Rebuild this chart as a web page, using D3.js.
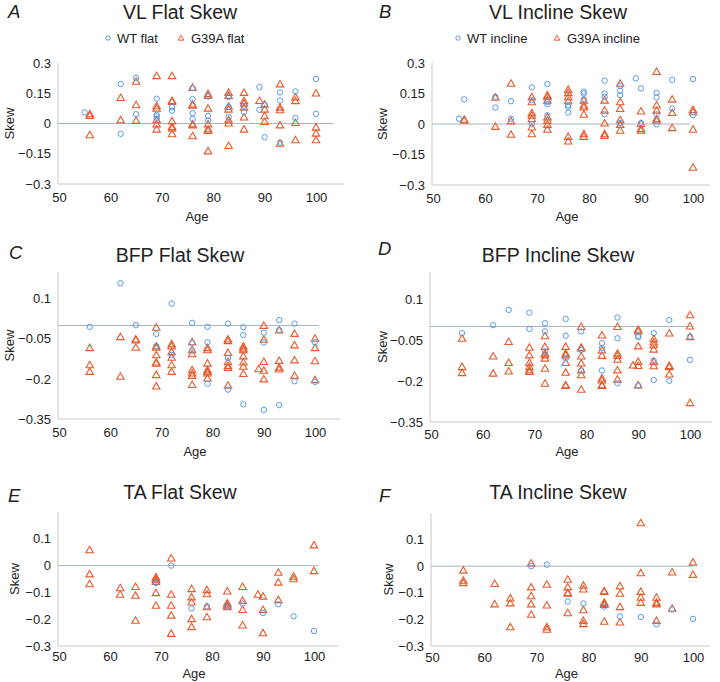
<!DOCTYPE html>
<html><head><meta charset="utf-8">
<script src="https://cdn.jsdelivr.net/npm/d3@7"></script>
<style>body{margin:0;background:#fff}svg{display:block;font-family:"Liberation Sans",Arial,sans-serif}</style>
</head><body><svg id="c" width="720" height="682"></svg>
<script>
// ---------- data ----------
const vlFlatWT = [[55,0.055],[62,0.196],[62,-0.051],[65,0.226],[65,0.046],[69,0.123],[69,0.043],[69,0.035],[69,0.023],[72,0.081],[72,0.063],[76,0.176],[76,0.121],[76,0.051],[76,0.022],[79,0.134],[79,0.038],[79,0.015],[83,0.131],[83,0.081],[83,0.032],[86,0.088],[86,0.056],[89,0.181],[89,0.068],[90,-0.068],[90,0.093],[93,0.154],[93,0.114],[93,-0.095],[96,0.159],[96,0.027],[100,0.221],[100,0.048]];
const vlFlatG39A = [[56,0.048],[56,0.040],[56,-0.056],[62,0.129],[62,0.018],[65,0.209],[65,0.093],[65,0.015],[69,0.237],[69,0.088],[69,0.076],[69,0.018],[69,-0.002],[69,-0.028],[72,0.237],[72,0.114],[72,0.109],[72,0.013],[72,-0.015],[72,-0.023],[72,-0.051],[76,0.179],[76,0.096],[76,0.091],[76,-0.002],[76,-0.007],[76,-0.061],[79,0.148],[79,0.139],[79,0.076],[79,-0.002],[79,-0.027],[79,-0.035],[79,-0.136],[83,0.154],[83,0.139],[83,0.085],[83,0.071],[83,0.018],[83,0.002],[83,-0.109],[86,0.154],[86,0.113],[86,0.101],[86,0.081],[86,0.032],[86,-0.028],[89,0.114],[90,0.096],[90,0.071],[90,0.038],[90,0.010],[93,0.196],[93,0.081],[93,0.068],[93,-0.007],[93,-0.098],[96,0.131],[96,0.113],[96,0.005],[96,-0.081],[100,0.151],[100,-0.018],[100,-0.048],[100,-0.081]];
const vlInclineWT = [[55,0.026],[56,0.121],[62,0.134],[62,0.081],[65,0.112],[65,0.026],[69,0.180],[69,0.117],[69,0.0],[72,0.197],[72,0.109],[72,0.098],[72,0.043],[76,0.093],[76,0.084],[76,0.056],[79,0.159],[79,0.150],[79,0.121],[83,0.213],[83,0.150],[83,0.134],[83,0.048],[86,0.187],[86,0.164],[86,0.142],[86,0.005],[89,0.225],[90,0.175],[90,0.005],[93,0.154],[93,0.131],[93,0.048],[93,-0.002],[96,0.217],[96,0.076],[100,0.221],[100,0.043]];
const vlInclineG39A = [[56,0.023],[56,0.018],[62,0.131],[62,-0.012],[65,0.200],[65,0.015],[65,-0.051],[69,0.134],[69,0.109],[69,0.055],[69,0.043],[69,0.026],[69,-0.015],[69,-0.048],[72,0.142],[72,0.134],[72,0.117],[72,0.035],[72,0.018],[72,-0.002],[72,-0.026],[76,0.170],[76,0.154],[76,0.134],[76,0.114],[76,-0.061],[76,-0.084],[79,0.117],[79,0.093],[79,0.084],[79,0.048],[79,-0.048],[79,-0.061],[83,0.117],[83,0.068],[83,0.005],[83,-0.048],[83,-0.056],[86,0.200],[86,0.109],[86,0.076],[86,0.021],[86,-0.002],[86,-0.031],[90,0.064],[90,0.002],[90,-0.023],[90,-0.031],[93,0.258],[93,0.093],[93,0.068],[93,0.026],[93,0.018],[96,0.122],[96,0.056],[96,-0.018],[100,0.071],[100,0.060],[100,-0.026],[100,-0.213]];
const bfpFlatWT = [[56,-0.005],[62,0.158],[65,0.001],[69,-0.032],[69,-0.077],[72,0.082],[72,-0.110],[76,0.010],[76,-0.067],[76,-0.094],[79,-0.005],[79,-0.063],[79,-0.218],[83,0.007],[83,-0.122],[83,-0.240],[86,-0.007],[86,-0.036],[86,-0.295],[90,-0.027],[90,-0.064],[90,-0.316],[93,0.020],[93,-0.017],[93,-0.298],[96,0.007],[96,-0.209],[100,-0.063],[100,-0.211]];
const bfpFlatG39A = [[56,-0.083],[56,-0.147],[56,-0.172],[62,-0.042],[62,-0.190],[65,-0.051],[65,-0.054],[65,-0.082],[69,-0.007],[69,-0.077],[69,-0.082],[69,-0.110],[69,-0.137],[69,-0.141],[69,-0.184],[69,-0.227],[72,-0.069],[72,-0.077],[72,-0.098],[72,-0.119],[72,-0.147],[72,-0.172],[76,-0.061],[76,-0.091],[76,-0.106],[76,-0.166],[76,-0.178],[76,-0.187],[76,-0.221],[79,-0.083],[79,-0.091],[79,-0.141],[79,-0.166],[79,-0.172],[79,-0.178],[79,-0.197],[83,-0.051],[83,-0.057],[83,-0.101],[83,-0.135],[83,-0.150],[83,-0.157],[83,-0.224],[86,-0.077],[86,-0.085],[86,-0.091],[86,-0.114],[86,-0.137],[86,-0.153],[86,-0.180],[89,-0.162],[90,0.0],[90,-0.052],[90,-0.135],[90,-0.168],[90,-0.200],[93,-0.017],[93,-0.131],[93,-0.156],[93,-0.163],[96,-0.030],[96,-0.073],[96,-0.129],[96,-0.187],[100,-0.048],[100,-0.083],[100,-0.132],[100,-0.203]];
const bfpInclineWT = [[56,-0.024],[62,0.005],[65,0.061],[69,0.051],[69,-0.009],[72,0.012],[72,-0.018],[72,-0.092],[76,0.028],[76,-0.034],[76,-0.116],[79,-0.018],[79,-0.086],[79,-0.161],[83,-0.061],[83,-0.079],[83,-0.161],[86,0.033],[86,-0.043],[86,-0.208],[90,-0.034],[90,-0.039],[90,-0.216],[93,-0.024],[93,-0.125],[93,-0.196],[96,0.024],[96,-0.199],[100,-0.037],[100,-0.122]];
const bfpInclineG39A = [[56,-0.043],[56,-0.147],[56,-0.169],[62,-0.108],[62,-0.171],[65,-0.055],[65,-0.132],[65,-0.163],[69,-0.076],[69,-0.104],[69,-0.132],[69,-0.147],[69,-0.159],[69,-0.165],[72,-0.034],[72,-0.073],[72,-0.098],[72,-0.104],[72,-0.116],[72,-0.153],[72,-0.208],[76,-0.073],[76,-0.098],[76,-0.104],[76,-0.132],[76,-0.168],[76,-0.214],[76,-0.216],[79,0.0],[79,-0.076],[79,-0.079],[79,-0.108],[79,-0.134],[79,-0.159],[79,-0.177],[79,-0.230],[83,-0.031],[83,-0.086],[83,-0.106],[83,-0.189],[83,-0.196],[83,-0.214],[83,-0.216],[86,0.0],[86,-0.098],[86,-0.106],[86,-0.120],[86,-0.159],[86,-0.193],[89,-0.141],[90,-0.010],[90,-0.016],[90,-0.071],[90,-0.128],[90,-0.143],[90,-0.214],[93,-0.045],[93,-0.057],[93,-0.067],[93,-0.083],[93,-0.128],[93,-0.144],[96,-0.024],[96,-0.143],[96,-0.147],[96,-0.174],[100,0.043],[100,0.002],[100,-0.037],[100,-0.279]];
const taFlatWT = [[69,-0.065],[72,0.0],[76,-0.160],[79,-0.152],[83,-0.152],[86,-0.142],[90,-0.177],[93,-0.144],[96,-0.189],[100,-0.244]];
const taFlatG39A = [[56,0.059],[56,-0.031],[56,-0.068],[62,-0.083],[62,-0.107],[65,-0.078],[65,-0.111],[65,-0.204],[69,-0.043],[69,-0.049],[69,-0.053],[69,-0.059],[69,-0.101],[69,-0.148],[72,0.028],[72,-0.107],[72,-0.148],[72,-0.185],[72,-0.253],[76,-0.086],[76,-0.117],[76,-0.136],[76,-0.198],[76,-0.228],[79,-0.090],[79,-0.105],[79,-0.154],[79,-0.191],[83,-0.095],[83,-0.140],[83,-0.144],[83,-0.151],[83,-0.154],[86,-0.078],[86,-0.130],[86,-0.164],[86,-0.222],[89,-0.107],[90,-0.114],[90,-0.164],[90,-0.251],[93,-0.025],[93,-0.062],[93,-0.127],[96,-0.040],[96,-0.049],[100,0.077],[100,-0.019]];
const taInclineWT = [[69,0.0],[72,0.006],[76,-0.133],[79,-0.140],[83,-0.152],[86,-0.189],[90,-0.191],[93,-0.219],[96,-0.163],[100,-0.198]];
const taInclineG39A = [[56,-0.015],[56,-0.053],[56,-0.062],[62,-0.065],[62,-0.142],[65,-0.120],[65,-0.138],[65,-0.228],[69,0.012],[69,-0.078],[69,-0.111],[69,-0.142],[69,-0.181],[72,-0.068],[72,-0.146],[72,-0.228],[72,-0.237],[76,-0.049],[76,-0.078],[76,-0.099],[76,-0.102],[76,-0.175],[79,-0.072],[79,-0.086],[79,-0.164],[79,-0.204],[79,-0.216],[83,-0.093],[83,-0.095],[83,-0.136],[83,-0.140],[83,-0.144],[83,-0.207],[86,-0.074],[86,-0.102],[86,-0.152],[86,-0.210],[90,0.163],[90,-0.025],[90,-0.095],[90,-0.117],[90,-0.136],[93,-0.117],[93,-0.136],[93,-0.142],[93,-0.204],[96,-0.022],[96,-0.158],[100,0.015],[100,-0.031]];

const xTicks = [50, 60, 70, 80, 90, 100];
const yTicksVL = [-0.3, -0.15, 0, 0.15, 0.3];
const yTicksBFP = [-0.35, -0.2, -0.05, 0.1];
const yTicksTA = [-0.3, -0.2, -0.1, 0, 0.1];
const titles = ["VL Flat Skew", "VL Incline Skew", "BFP Flat Skew", "BFP Incline Skew", "TA Flat Skew", "TA Incline Skew"];
const letters = ["A", "B", "C", "D", "E", "F"];
const legendLabels = [["WT flat", "G39A flat"], ["WT incline", "G39A incline"]];

// ---------- layout ----------
const panels = [
  {wt: vlFlatWT, g: vlFlatG39A, yd: [-0.3, 0.3], yt: yTicksVL, x0: 58, x100: 316, x1: 344, top: 63, bot: 184, zEnd: 333, tx: 180, ty: 18.5, lx: 8, ly: 18.3, sx: 10, tickY: 203, ageY: 221, legend: 0, legX: [108, 181], legY: 38},
  {wt: vlInclineWT, g: vlInclineG39A, yd: [-0.3, 0.3], yt: yTicksVL, x0: 432, x100: 693, x1: 710, top: 63, bot: 185, zEnd: 690, tx: 558, ty: 18.5, lx: 379, ly: 18.3, sx: 383, tickY: 204, ageY: 221, legend: 1, legX: [458, 557], legY: 38},
  {wt: bfpFlatWT, g: bfpFlatG39A, yd: [-0.35, 0.2], yt: yTicksBFP, x0: 58, x100: 315, x1: 340, top: 272, bot: 419, zEnd: 319, tx: 180, ty: 261.5, lx: 9, ly: 258.5, sx: 10, tickY: 438, ageY: 456},
  {wt: bfpInclineWT, g: bfpInclineG39A, yd: [-0.35, 0.2], yt: yTicksBFP, x0: 430, x100: 690, x1: 712, top: 272, bot: 422, zEnd: 693, tx: 558, ty: 261.7, lx: 378, ly: 255, sx: 383, tickY: 440, ageY: 456},
  {wt: taFlatWT, g: taFlatG39A, yd: [-0.3, 0.2], yt: yTicksTA, x0: 58, x100: 314, x1: 338, top: 512, bot: 646, zEnd: 318, tx: 180, ty: 498.5, lx: 8, ly: 501.5, sx: 15, tickY: 662, ageY: 678},
  {wt: taInclineWT, g: taInclineG39A, yd: [-0.3, 0.2], yt: yTicksTA, x0: 431, x100: 693, x1: 710, top: 513, bot: 646, zEnd: 693, tx: 558, ty: 498.5, lx: 379, ly: 501.5, sx: 389, tickY: 663, ageY: 678}
];

const blue = "#5a9ae6", orange = "#e55a2b", axisCol = "#c8c8c8", zeroCol = "#a9b4bf", textCol = "#222";
const fmt = v => v === 0 ? "0" : (v < 0 ? "\u2212" : "") + String(Math.abs(v));
const svg = d3.select("#c");
const tri = d3.symbol().type(d3.symbolTriangle).size(24);
const triSmall = d3.symbol().type(d3.symbolTriangle).size(14);

panels.forEach((p, i) => {
  const g = svg.append("g");
  const x = d3.scaleLinear().domain([50, 100]).range([p.x0 + 1, p.x100]);
  const y = d3.scaleLinear().domain(p.yd).range([p.bot, p.top]);

  g.append("text").attr("x", p.tx).attr("y", p.ty).attr("text-anchor", "middle")
    .attr("font-size", 19.5).attr("fill", textCol).text(titles[i]);
  g.append("text").attr("x", p.lx).attr("y", p.ly).attr("font-size", 18.5)
    .attr("font-style", "italic").attr("fill", textCol).text(letters[i]);

  // axes
  g.append("line").attr("x1", p.x0).attr("x2", p.x0).attr("y1", p.top).attr("y2", p.bot).attr("stroke", axisCol);
  g.append("line").attr("x1", p.x0).attr("x2", p.x1).attr("y1", p.bot).attr("y2", p.bot).attr("stroke", axisCol);
  g.append("line").attr("x1", p.x0).attr("x2", p.zEnd).attr("y1", y(0)).attr("y2", y(0)).attr("stroke", zeroCol);

  const ya = d3.axisLeft(y).tickValues(p.yt).tickSize(0).tickPadding(7).tickFormat(fmt);
  const yg = g.append("g").attr("transform", `translate(${p.x0},0)`).call(ya);
  yg.select(".domain").remove();
  yg.selectAll("text").attr("font-size", 13).attr("fill", textCol).attr("font-family", "Liberation Sans, Arial, sans-serif");

  const xa = d3.axisBottom(x).tickValues(xTicks).tickSize(0).tickFormat(d3.format("d"));
  const xg = g.append("g").attr("transform", `translate(0,${p.tickY - 13})`).call(xa);
  xg.select(".domain").remove();
  xg.selectAll("text").attr("font-size", 13).attr("fill", textCol).attr("font-family", "Liberation Sans, Arial, sans-serif");

  g.append("text").attr("x", (p.x0 + p.x1) / 2 - 4).attr("y", p.ageY).attr("text-anchor", "middle")
    .attr("font-size", 13).attr("fill", textCol).text("Age");
  g.append("text").attr("transform", `translate(${p.sx + 4},${(p.top + p.bot) / 2}) rotate(-90)`)
    .attr("text-anchor", "middle").attr("font-size", 13).attr("fill", textCol).text("Skew");

  // marks
  g.append("g").selectAll("path").data(p.g).join("path")
    .attr("d", tri).attr("transform", d => `translate(${x(d[0])},${y(d[1]) + 0.8})`)
    .attr("fill", "none").attr("stroke", orange).attr("stroke-width", 1.1);
  g.append("g").selectAll("circle").data(p.wt).join("circle")
    .attr("cx", d => x(d[0])).attr("cy", d => y(d[1])).attr("r", 2.7)
    .attr("fill", "none").attr("stroke", blue).attr("stroke-width", 1);

  if (p.legend !== undefined) {
    const labs = legendLabels[p.legend];
    g.append("circle").attr("cx", p.legX[0]).attr("cy", p.legY).attr("r", 2.2)
      .attr("fill", "none").attr("stroke", blue).attr("stroke-width", 1);
    g.append("text").attr("x", p.legX[0] + 9).attr("y", p.legY + 4.5).attr("font-size", 13).attr("fill", textCol).text(labs[0]);
    g.append("path").attr("d", triSmall).attr("transform", `translate(${p.legX[1]},${p.legY + 0.5})`)
      .attr("fill", "none").attr("stroke", orange).attr("stroke-width", 1);
    g.append("text").attr("x", p.legX[1] + 10).attr("y", p.legY + 4.5).attr("font-size", 13).attr("fill", textCol).text(labs[1]);
  }
});
</script></body></html>
